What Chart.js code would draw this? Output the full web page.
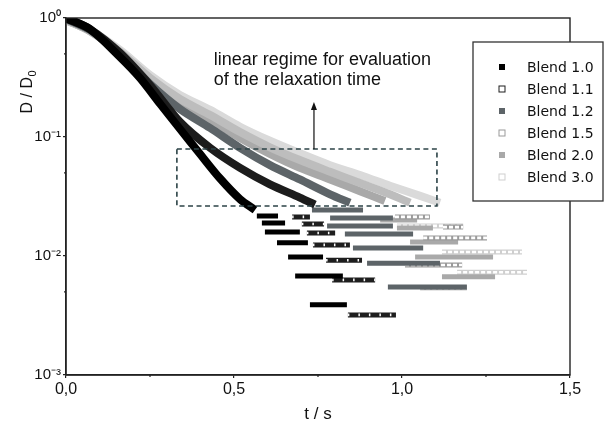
<!DOCTYPE html>
<html><head><meta charset="utf-8">
<script src="https://cdn.jsdelivr.net/npm/chart.js@4.4.0/dist/chart.umd.min.js"></script>
<style>html,body{margin:0;padding:0;background:#fff;}</style>
</head><body>
<canvas id="c" width="612" height="426"></canvas>
<script>
// ---------- DATA ----------
const seriesLabels = ['Blend 1.0','Blend 1.1','Blend 1.2','Blend 1.5','Blend 2.0','Blend 3.0'];
// dense (continuous-looking) part of each curve: [t / s, D/D0]
const curve10 = [[0,1.0],[0.071,0.808],[0.161,0.470],[0.220,0.314],[0.280,0.190],[0.339,0.117],[0.399,0.072],[0.458,0.045],[0.518,0.030],[0.5625,0.0244]];
const curve11 = [[0,1.0],[0.071,0.808],[0.161,0.508],[0.25,0.273],[0.339,0.134],[0.429,0.081],[0.518,0.055],[0.607,0.040],[0.696,0.031],[0.741,0.027]];
const curve12 = [[0,0.981],[0.071,0.793],[0.161,0.498],[0.25,0.279],[0.339,0.172],[0.429,0.119],[0.518,0.081],[0.607,0.058],[0.696,0.044],[0.786,0.033],[0.845,0.028]];
const curve15 = [[0,0.962],[0.071,0.778],[0.161,0.518],[0.25,0.314],[0.339,0.209],[0.429,0.153],[0.518,0.110],[0.607,0.082],[0.696,0.064],[0.786,0.051],[0.875,0.041],[0.964,0.033],[1.024,0.028]];
const curve20 = [[0,0.962],[0.071,0.778],[0.161,0.508],[0.25,0.296],[0.339,0.193],[0.429,0.139],[0.518,0.098],[0.607,0.072],[0.696,0.055],[0.786,0.044],[0.875,0.035],[0.949,0.029]];
const curve30 = [[0,0.962],[0.071,0.793],[0.161,0.538],[0.25,0.332],[0.339,0.226],[0.429,0.169],[0.518,0.122],[0.607,0.093],[0.696,0.073],[0.786,0.058],[0.875,0.048],[0.964,0.039],[1.054,0.032],[1.113,0.028]];
// quantized runs at low D/D0: [t start, t end, D/D0]
const runs10 = [[0.568,0.631,0.0217],[0.583,0.652,0.0189],[0.592,0.696,0.0159],[0.628,0.720,0.0129],[0.661,0.765,0.0098],[0.682,0.824,0.0068],[0.726,0.836,0.0039]];
const runs11 = [[0.673,0.726,0.0213],[0.702,0.768,0.0186],[0.717,0.801,0.0156],[0.735,0.845,0.0124],[0.774,0.881,0.0092],[0.792,0.920,0.0063],[0.839,0.982,0.0032]];
const runs12 = [[0.732,0.884,0.0244],[0.786,0.973,0.0209],[0.777,0.973,0.0179],[0.830,1.033,0.0153],[0.854,1.063,0.0117],[0.896,1.113,0.0087],[0.958,1.193,0.0055]];
const runs15 = [[0.979,1.083,0.0213],[1.122,1.182,0.0175],[1.063,1.253,0.0142],[1.009,1.179,0.0084],[1.054,1.193,0.0054]];
const runs20 = [[0.935,1.045,0.0201],[0.985,1.092,0.0172],[1.024,1.167,0.0131],[1.039,1.271,0.0098],[1.119,1.277,0.0067]];
const runs30 = [[0.985,1.182,0.0179],[1.119,1.357,0.0108],[1.164,1.372,0.0073]];
// axes
const xTickValues = [0, 0.5, 1.0, 1.5];
const xTickLabels = ['0,0','0,5','1,0','1,5'];
const xMinorTicks = [0.25, 0.75, 1.25];
const yTickValues = [0.001, 0.01, 0.1, 1];
const yTickLabels = ['10\u207B\u00B3','10\u207B\u00B2','10\u207B\u00B9','10\u2070'];
const yMinorTicks = [0.005, 0.05, 0.5];
// annotation: evaluation window and arrow
const boxT = [0.330, 1.104];
const boxD = [0.0263, 0.0793];
const arrowT = 0.738;
const arrowD = [0.0793, 0.197];
const noteLines = ['linear regime for evaluation', 'of the relaxation time'];

// ---------- STYLE ----------
const styles = [
  {line:'#000000', fill:'#000000', open:false},
  {line:'#1c1c1c', fill:'#ffffff', open:true, edge:'#1e1e1e'},
  {line:'#5d6468', fill:'#5d6468', open:false},
  {line:'#bdbdbd', fill:'#ffffff', open:true, edge:'#9a9a9a'},
  {line:'#a9a9a9', fill:'#a9a9a9', open:false},
  {line:'#dadada', fill:'#ffffff', open:true, edge:'#cfcfcf'}
];
const curves = [curve10, curve11, curve12, curve15, curve20, curve30];
const runs = [runs10, runs11, runs12, runs15, runs20, runs30];

const toPts = c => c.map(p => ({x:p[0], y:p[1]}));
const runPts = r => { const o=[]; r.forEach(s => { o.push({x:s[0],y:s[2]},{x:s[1],y:s[2]},{x:s[1],y:null}); }); return o; };

const datasets = [];
curves.forEach((c, i) => {
  const st = styles[i];
  datasets.push({label: seriesLabels[i], data: toPts(c), borderColor: st.line, borderWidth: 8,
    pointRadius: 0, tension: 0.3, borderCapStyle:'butt', borderJoinStyle:'round', order: 10*i+5});
  datasets.push({label: seriesLabels[i]+' runs', data: runPts(runs[i]), borderColor: st.open ? st.edge : st.line,
    borderWidth: 5, pointRadius: 0, borderCapStyle:'butt', spanGaps:false, order: 10*i+3});
  if (st.open) {
    datasets.push({label: seriesLabels[i]+' inner', data: runPts(runs[i]), borderColor: '#ffffff',
      borderWidth: 2.6, borderDash: i===1 ? [1.5,9] : [4,2], pointRadius: 0, borderCapStyle:'butt', spanGaps:false, order: 10*i+1});
  }
});

const decor = {
  id: 'decor',
  afterDraw(chart) {
    const ctx = chart.ctx, a = chart.chartArea, xs = chart.scales.x, ys = chart.scales.y;
    ctx.save();
    // frame
    ctx.strokeStyle = '#222'; ctx.lineWidth = 1.4; ctx.setLineDash([]);
    ctx.strokeRect(a.left, a.top, a.right - a.left, a.bottom - a.top);
    // minor ticks (outward)
    ctx.lineWidth = 1.2;
    xMinorTicks.forEach(v => { const px = xs.getPixelForValue(v); ctx.beginPath(); ctx.moveTo(px, a.bottom); ctx.lineTo(px, a.bottom+2); ctx.stroke(); });
    yMinorTicks.forEach(v => { const py = ys.getPixelForValue(v); ctx.beginPath(); ctx.moveTo(a.left-2, py); ctx.lineTo(a.left, py); ctx.stroke(); });
    // dashed box
    const bx1 = xs.getPixelForValue(boxT[0]), bx2 = xs.getPixelForValue(boxT[1]);
    const by1 = ys.getPixelForValue(boxD[1]), by2 = ys.getPixelForValue(boxD[0]);
    ctx.strokeStyle = '#2c4347'; ctx.lineWidth = 1.6; ctx.setLineDash([5,3.5]);
    ctx.strokeRect(bx1, by1, bx2-bx1, by2-by1);
    // arrow
    ctx.setLineDash([]); ctx.strokeStyle = '#111'; ctx.fillStyle = '#111'; ctx.lineWidth = 1.2;
    const ax = xs.getPixelForValue(arrowT), ay1 = ys.getPixelForValue(arrowD[0]), ay2 = ys.getPixelForValue(arrowD[1]);
    ctx.beginPath(); ctx.moveTo(ax, ay1); ctx.lineTo(ax, ay2+6); ctx.stroke();
    ctx.beginPath(); ctx.moveTo(ax, ay2); ctx.lineTo(ax-3, ay2+8); ctx.lineTo(ax+3, ay2+8); ctx.closePath(); ctx.fill();
    // note text
    ctx.font = '18px "Liberation Sans", Arial, sans-serif'; ctx.fillStyle = '#111'; ctx.textBaseline = 'alphabetic'; ctx.textAlign='left';
    const tx = xs.getPixelForValue(0.440);
    ctx.fillText(noteLines[0], tx, a.top + 47);
    ctx.fillText(noteLines[1], tx, a.top + 67);
    // y title
    ctx.save();
    ctx.translate(a.left - 38, a.top + 59);
    ctx.rotate(-Math.PI/2);
    ctx.textAlign = 'right'; ctx.textBaseline = 'middle';
    ctx.font = '16px "Liberation Sans", Arial, sans-serif';
    ctx.fillText('D / D', 0, 0);
    ctx.font = '11px "Liberation Sans", Arial, sans-serif';
    ctx.textAlign = 'left';
    ctx.fillText('0', 0.5, 5);
    ctx.restore();
    // legend
    const lx = a.right - 97, ly = a.top + 24, lw = 130, lh = 159;
    ctx.fillStyle = '#fff'; ctx.fillRect(lx, ly, lw, lh);
    ctx.strokeStyle = '#333'; ctx.lineWidth = 1.3; ctx.strokeRect(lx, ly, lw, lh);
    ctx.font = '14px "DejaVu Sans", Verdana, sans-serif'; ctx.textBaseline = 'middle'; ctx.textAlign = 'left';
    seriesLabels.forEach((lab, i) => {
      const st = styles[i], cy = ly + 25 + i*22, cx = lx + 29;
      ctx.fillStyle = st.fill; ctx.fillRect(cx-3, cy-3, 6, 6);
      if (st.open) { ctx.strokeStyle = st.edge; ctx.lineWidth = 1; ctx.strokeRect(cx-3, cy-3, 6, 6); }
      ctx.fillStyle = '#111'; ctx.fillText(lab, lx + 54, cy + 1);
    });
    ctx.restore();
  }
};

new Chart(document.getElementById('c'), {
  type: 'line',
  data: { datasets },
  options: {
    responsive: false, animation: false,
    layout: { padding: { left: 0, right: 42, top: 18, bottom: 0 } },
    plugins: { legend: { display: false }, tooltip: { enabled: false } },
    scales: {
      x: {
        type: 'linear', min: 0, max: 1.5,
        afterBuildTicks: s => { s.ticks = xTickValues.map(v => ({value: v})); },
        afterFit: s => { s.height = 51; },
        ticks: { autoSkip: false, maxRotation: 0, padding: 2, color: '#111',
          font: { family: '"Liberation Sans", Arial, sans-serif', size: 16 },
          callback: v => { const k = xTickValues.findIndex(t => Math.abs(t - v) < 1e-9); return k >= 0 ? xTickLabels[k] : ''; } },
        grid: { drawOnChartArea: false, drawTicks: true, tickLength: 3, color: '#222', lineWidth: 1.2 },
        border: { display: true, color: '#222', width: 1.4 },
        title: { display: true, text: 't / s', color: '#111', padding: { top: 0, bottom: 1 },
          font: { family: '"Liberation Sans", Arial, sans-serif', size: 17 } }
      },
      y: {
        type: 'logarithmic', min: 0.001, max: 1,
        afterBuildTicks: s => { s.ticks = yTickValues.map(v => ({value: v})); },
        afterFit: s => { s.width = 66; },
        ticks: { autoSkip: false, padding: 2, color: '#111',
          font: { family: '"Liberation Sans", Arial, sans-serif', size: 15 },
          callback: v => { const k = yTickValues.findIndex(t => Math.abs(Math.log10(t) - Math.log10(v)) < 1e-6); return k >= 0 ? yTickLabels[k] : ''; } },
        grid: { drawOnChartArea: false, drawTicks: true, tickLength: 3, color: '#222', lineWidth: 1.2 },
        border: { display: true, color: '#222', width: 1.4 }
      }
    }
  },
  plugins: [decor]
});
</script>
</body></html>
